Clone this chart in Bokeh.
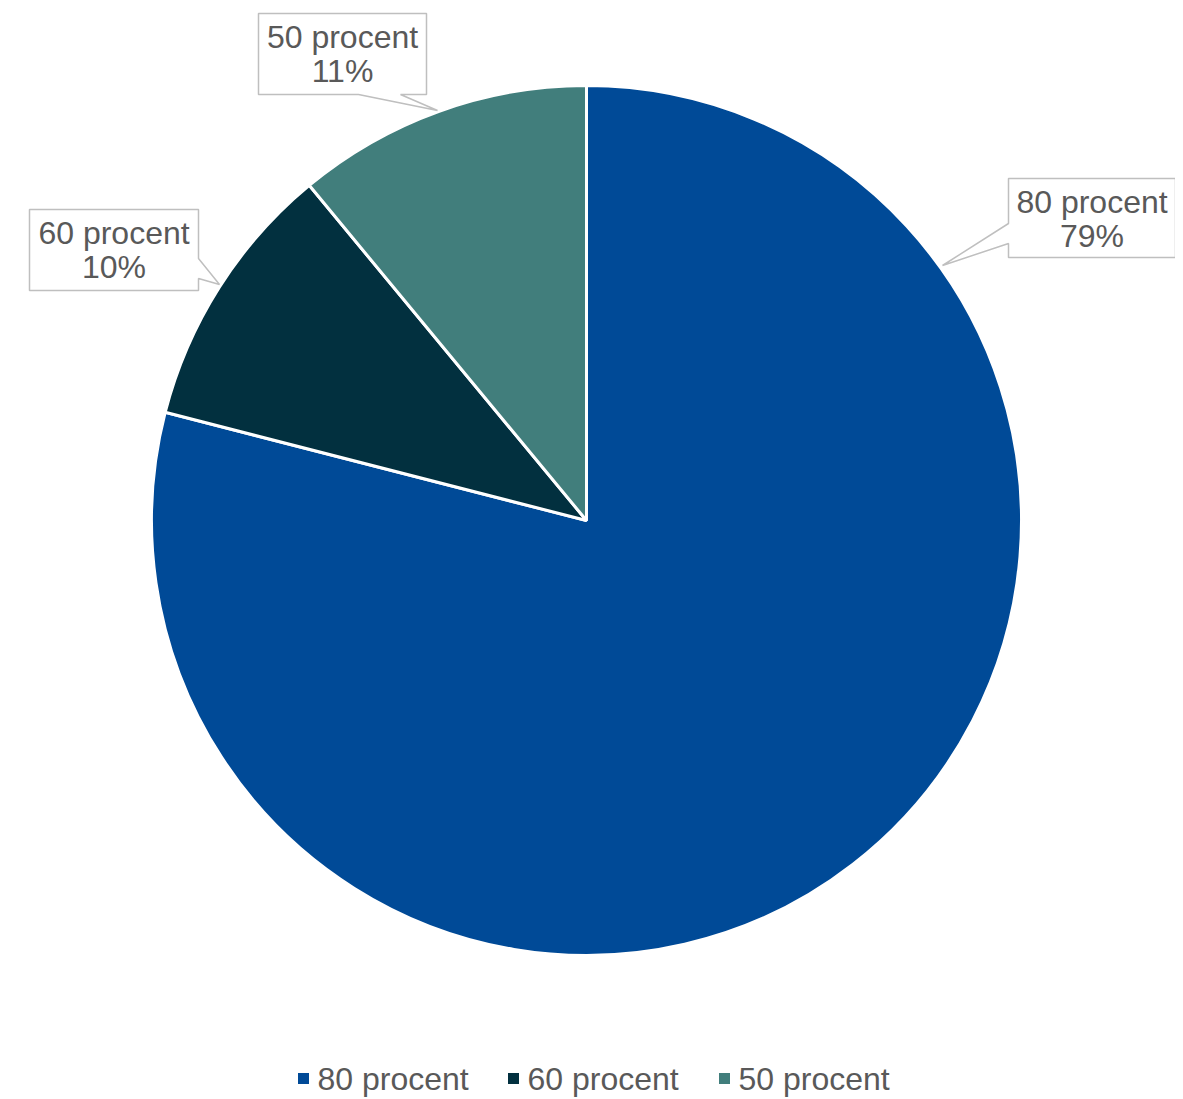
import math
from bokeh.plotting import figure
from bokeh.models import Range1d, ColumnDataSource
from bokeh.core.properties import value
from bokeh.embed import file_html
from bokeh.resources import INLINE

# ---- data ----
categories = ["80 procent", "60 procent", "50 procent"]
shares = [79, 10, 11]
pct_labels = ["79%", "10%", "11%"]
colors = ["#004A97", "#02303F", "#417E7C"]

# ---- layout (screen-pixel coordinates) ----
W, H = 1175, 1099
CX, CY, R = 586, 520, 435
FONT = value("Liberation Sans")
TXT = "#595959"
FS = "32px"

# callout boxes: (left, top, right, bottom), pointer base, tip
callouts = [
    dict(box=(1008, 178, 1175, 257), side="left", base=(223, 243), tip=(942, 265)),
    dict(box=(29, 209, 198, 290), side="right", base=(258, 278), tip=(219, 284)),
    dict(box=(258, 13, 426, 94), side="bottom", base=(358, 400), tip=(437, 110)),
]
legend_x = [303, 513, 724]

p = figure(width=W, height=H, output_backend="svg", toolbar_location=None,
           x_range=Range1d(0, W), y_range=Range1d(-H, 0),
           min_border=0, outline_line_color=None, background_fill_color="white")
p.axis.visible = False
p.grid.visible = False

# wedges
total = sum(shares)
starts, ends = [], []
cum = 0.0
for s in shares:
    starts.append(math.pi / 2 - 2 * math.pi * cum / total)
    cum += s
    ends.append(math.pi / 2 - 2 * math.pi * cum / total)
src = ColumnDataSource(dict(start=starts, end=ends, color=colors, cat=categories))
p.wedge(x=CX, y=-CY, radius=R, start_angle="start", end_angle="end",
        direction="clock", fill_color="color", line_color="white", line_width=3,
        source=src)

# callouts
xs, ys = [], []
for c in callouts:
    l, t, r, b = c["box"]
    b0, b1 = c["base"]
    tx, ty = c["tip"]
    if c["side"] == "left":
        pts = [(l, t), (r, t), (r, b), (l, b), (l, b1), (tx, ty), (l, b0)]
    elif c["side"] == "right":
        pts = [(l, t), (r, t), (r, b0), (tx, ty), (r, b1), (r, b), (l, b)]
    else:
        pts = [(l, t), (r, t), (r, b), (b1, b), (tx, ty), (b0, b), (l, b)]
    xs.append([q[0] for q in pts])
    ys.append([-q[1] for q in pts])
p.patches(xs, ys, fill_color="white", line_color="#BFBFBF", line_width=1.5)

lx, ly, lt = [], [], []
for c, cat, pl in zip(callouts, categories, pct_labels):
    l, t, r, b = c["box"]
    mx = (l + r) / 2
    lx += [mx, mx]
    ly += [-(t + 23), -(t + 57)]
    lt += [cat, pl]
p.text(x=lx, y=ly, text=lt, text_align="center", text_baseline="middle",
       text_font=FONT, text_font_size=FS, text_color=TXT)

# legend
p.scatter(x=legend_x, y=[-1078] * 3, marker="square", size=11,
          fill_color=colors, line_color=None)
p.text(x=[v + 14 for v in legend_x], y=[-1078] * 3, text=categories,
       text_align="left", text_baseline="middle",
       text_font=FONT, text_font_size=FS, text_color=TXT)

open("out.html", "w").write(file_html(p, INLINE))
